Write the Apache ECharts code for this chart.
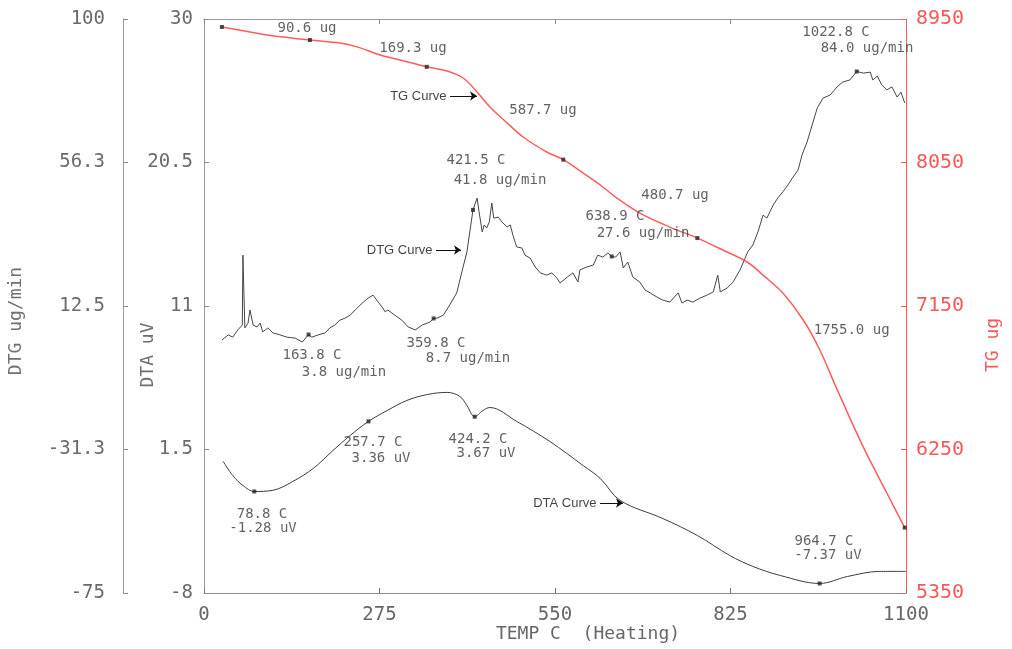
<!DOCTYPE html>
<html><head><meta charset="utf-8">
<script src="https://cdn.jsdelivr.net/npm/echarts@6/dist/echarts.min.js"></script>
<style>html,body{margin:0;padding:0;background:#fff}#c{width:1012px;height:649px}</style>
</head><body><div id="c"></div>
<script>
// ---- tick values and labels ----
const xTicks = [0, 275, 550, 825, 1100];
const xTickLabels = ['0', '275', '550', '825', '1100'];
const dtaTicks = [-8, 1.5, 11, 20.5, 30];
const dtaTickLabels = ['-8', '1.5', '11', '20.5', '30'];
const dtgTicks = [-75, -31.25, 12.5, 56.25, 100];
const dtgTickLabels = ['-75', '-31.3', '12.5', '56.3', '100'];
const tgTicks = [5350, 6250, 7150, 8050, 8950];
const tgTickLabels = ['5350', '6250', '7150', '8050', '8950'];

// ---- TG curve (ug) ----
const tgTemp = [28,72,99,166,213,240,276,307,349,381,406,428,448,475,500,537,563,594,621,647,683,730,773,813,851,876,907,939,965,989,1033,1070,1098];
const tgMass = [8900,8869,8850,8818,8800,8775,8724,8693,8650,8624,8580,8492,8398,8298,8210,8116,8068,7984,7909,7827,7733,7645,7576,7501,7426,7344,7231,7062,6874,6654,6266,5977,5760];
const tgMarkTemp = [28,166,349,563,773,1098];
const tgMarkMass = [8900,8818,8650,8068,7576,5760];

// ---- DTG curve (ug/min) ----
const dtgTemp = [28,38,45,53,60,61,64,69,72,77,83,88,92,100,108,119,130,143,154,163.8,169,179,190,197,205,213,221,229,237,248,257,265,273,279,284,288,299,310,320,331,342,354,359.8,365,375,385,396,406,412,421.5,428,431,436,439,443,447,451,454,461,467,475,480,484,490,498,503,511,519,527,537,545,553,558,569,578,586,589,600,610,617,625,633,638.9,645,652,657,664,672,683,691,699,710,719,730,743,749,757,766,777,788,798,805,809,820,829,840,852,860,868,876,882,892,899,907,915,923,931,937,945,953,961,970,981,992,1001,1012,1022.8,1033,1044,1048,1055,1062,1070,1078,1083,1086,1092,1098];
const dtgRate = [2.1,3.7,3.0,5.2,6.7,28.0,5.8,7.3,11.3,6.7,6.1,7.3,4.6,5.8,4.3,3.7,3.0,2.7,1.5,3.8,3.0,3.7,4.3,5.8,6.7,8.2,8.8,9.7,11.3,13.4,14.9,15.8,13.7,12.2,10.7,11.3,9.7,8.2,6.1,5.2,6.7,7.6,8.7,8.8,9.7,12.8,16.5,24.4,29.0,41.8,45.4,41.2,35.1,37.2,36.3,38.1,43.9,39.3,39.6,38.1,36.6,37.2,34.1,30.5,30.2,28.0,27.1,24.4,22.6,21.9,22.6,21.0,19.5,21.3,22.6,19.8,23.5,24.4,25.0,28.0,27.4,28.7,27.6,27.4,29.0,24.1,25.9,21.3,19.8,17.4,16.5,15.2,14.3,13.7,16.5,13.4,14.3,13.7,14.9,15.8,16.8,21.9,16.8,18.0,19.8,23.5,29.0,31.1,35.1,40.2,39.3,43.3,45.4,47.3,49.4,51.8,54.0,58.5,62.5,67.7,72.9,75.9,76.8,79.3,80.8,81.4,84.0,83.5,83.8,81.4,82.6,79.9,78.4,79.3,77.4,76.2,77.7,74.4];
const dtgMarkTemp = [163.8,359.8,421.5,638.9,1022.8];
const dtgMarkRate = [3.8,8.7,41.8,27.6,84.0];

// ---- DTA curve (uV) ----
const dtaTemp = [30,45,61,78.8,108,139,171,202,229,257.7,287,318,350,381,401,412,424.2,437,448,490,542,594,621,652,719,773,824,860,903,964.7,1008,1059,1100];
const dtaSignal = [0.71,-0.22,-0.88,-1.28,-1.2,-0.62,0.24,1.43,2.43,3.36,4.08,4.75,5.14,5.28,5.01,4.41,3.67,4.08,4.28,3.36,2.03,0.44,-0.42,-1.87,-3.07,-4.19,-5.52,-6.24,-6.84,-7.37,-6.91,-6.57,-6.57];
const dtaMarkTemp = [78.8,257.7,424.2,964.7];
const dtaMarkSignal = [-1.28,3.36,3.67,-7.37];

// ---- annotation texts (anchored in temp / DTA-axis units) ----
const annoText = ['90.6 ug','169.3 ug','587.7 ug','480.7 ug','1755.0 ug','421.5 C','41.8 ug/min','163.8 C','3.8 ug/min','359.8 C','8.7 ug/min','638.9 C','27.6 ug/min','1022.8 C','84.0 ug/min','78.8 C','-1.28 uV','257.7 C','3.36 uV','424.2 C','3.67 uV','964.7 C','-7.37 uV'];
const annoTemp = [161.4,327.5,531.2,738.1,1014.8,426.2,463.8,169.2,219.4,363.5,413.7,644.0,687.9,990.3,1038.9,90.9,92.5,264.8,277.4,429.4,441.9,971.5,977.8];
const annoY = [29.40,28.08,23.98,18.35,9.41,20.67,19.34,7.76,6.63,8.55,7.56,16.96,15.83,29.14,28.08,-2.77,-3.70,2.00,0.94,2.20,1.27,-4.56,-5.48];

const curveText = ['TG Curve','DTG Curve','DTA Curve'];
const curveLabelTemp = [380.8,358.8,615.8];
const arrowStart = [385.5,363.5,620.5];
const arrowEnd = [427.8,402.7,656.6];
const curveY = [24.90,14.71,-2.04];

const MONO = 'DejaVu Sans Mono';
const RED = '#f55a5a';
const pair = (xs, ys) => xs.map((x, i) => [x, ys[i]]);
const fmt = (ticks, labels) => v => {
  const i = ticks.findIndex(t => Math.abs(t - v) < 1e-6);
  return i < 0 ? '' : labels[i];
};

const chart = echarts.init(document.getElementById('c'));
const leftAxisBase = {
  type: 'value', position: 'left',
  axisLine: { show: true, onZero: false, lineStyle: { color: '#9a9a9a', width: 1 } },
  axisTick: { show: true, inside: true, length: 5, lineStyle: { color: '#8a8a8a' } },
  splitLine: { show: false }
};
chart.setOption({
  animation: false,
  backgroundColor: '#ffffff',
  grid: { left: 204, right: 106, top: 19, bottom: 56, containLabel: false },
  xAxis: [
    { type: 'value', min: 0, max: 1100, interval: 275, position: 'bottom',
      axisLine: { onZero: false, lineStyle: { color: '#8a8a8a', width: 1 } },
      axisTick: { inside: true, length: 5, lineStyle: { color: '#777' } },
      axisLabel: { formatter: fmt(xTicks, xTickLabels), fontFamily: MONO, fontSize: 19, color: '#666', margin: 13 },
      splitLine: { show: false } },
    { type: 'value', min: 0, max: 1100, interval: 275, position: 'top',
      axisLine: { show: true, onZero: false, lineStyle: { color: '#9a9a9a', width: 1 } },
      axisTick: { show: true, inside: true, length: 5, lineStyle: { color: '#888' } },
      axisLabel: { show: false }, splitLine: { show: false } }
  ],
  yAxis: [
    Object.assign({}, leftAxisBase, { min: -8, max: 30, interval: 9.5,
      axisLabel: { formatter: fmt(dtaTicks, dtaTickLabels), fontFamily: MONO, fontSize: 19, color: '#6a6a6a', margin: 11 } }),
    Object.assign({}, leftAxisBase, { min: -75, max: 100, interval: 43.75, offset: 81,
      axisLabel: { formatter: fmt(dtgTicks, dtgTickLabels), fontFamily: MONO, fontSize: 19, color: '#6a6a6a', margin: 18 } }),
    { type: 'value', position: 'right', min: 5350, max: 8950, interval: 900,
      axisLine: { show: true, onZero: false, lineStyle: { color: RED, width: 1 } },
      axisTick: { show: true, inside: true, length: 5, lineStyle: { color: RED } },
      axisLabel: { formatter: fmt(tgTicks, tgTickLabels), fontFamily: MONO, fontSize: 20, color: RED, margin: 10 },
      splitLine: { show: false } }
  ],
  graphic: [
    { type: 'text', x: 16, y: 321, rotation: Math.PI / 2,
      style: { text: 'DTG ug/min', fontFamily: MONO, fontSize: 18, fill: '#707070', align: 'center', verticalAlign: 'middle' } },
    { type: 'text', x: 148, y: 355, rotation: Math.PI / 2,
      style: { text: 'DTA uV', fontFamily: MONO, fontSize: 18, fill: '#707070', align: 'center', verticalAlign: 'middle' } },
    { type: 'text', x: 993, y: 345, rotation: Math.PI / 2,
      style: { text: 'TG ug', fontFamily: MONO, fontSize: 18, fill: RED, align: 'center', verticalAlign: 'middle' } },
    { type: 'text', x: 588, y: 634,
      style: { text: 'TEMP C  (Heating)', fontFamily: MONO, fontSize: 18, fill: '#666', align: 'center', verticalAlign: 'middle' } }
  ],
  series: [
    { name: 'DTA', type: 'line', xAxisIndex: 0, yAxisIndex: 0, data: pair(dtaTemp, dtaSignal),
      smooth: 0.35, symbol: 'none', lineStyle: { color: '#3c3c3c', width: 1 }, z: 3 },
    { name: 'DTG', type: 'line', xAxisIndex: 0, yAxisIndex: 1, data: pair(dtgTemp, dtgRate),
      symbol: 'none', lineStyle: { color: '#464646', width: 1 }, z: 3 },
    { name: 'TG', type: 'line', xAxisIndex: 0, yAxisIndex: 2, data: pair(tgTemp, tgMass),
      smooth: 0.35, symbol: 'none', lineStyle: { color: '#ff5c5c', width: 1.5 }, z: 4 },
    { type: 'scatter', yAxisIndex: 0, data: pair(dtaMarkTemp, dtaMarkSignal), symbol: 'rect', symbolSize: 4,
      itemStyle: { color: '#222' }, z: 6, silent: true },
    { type: 'scatter', yAxisIndex: 1, data: pair(dtgMarkTemp, dtgMarkRate), symbol: 'rect', symbolSize: 4,
      itemStyle: { color: '#222' }, z: 6, silent: true },
    { type: 'scatter', yAxisIndex: 2, data: pair(tgMarkTemp, tgMarkMass), symbol: 'rect', symbolSize: 4,
      itemStyle: { color: '#222' }, z: 6, silent: true },
    { type: 'scatter', yAxisIndex: 0, symbolSize: 1, itemStyle: { color: 'rgba(0,0,0,0)' }, silent: true, z: 7,
      data: annoText.map((t, i) => ({ value: [annoTemp[i], annoY[i]], label: { show: true, formatter: t } })),
      label: { show: true, position: 'inside', fontFamily: MONO, fontSize: 14, color: '#3a3a3a' } },
    { type: 'scatter', yAxisIndex: 0, symbolSize: 1, itemStyle: { color: 'rgba(0,0,0,0)' }, silent: true, z: 7,
      data: curveText.map((t, i) => ({ value: [curveLabelTemp[i], curveY[i]], label: { show: true, formatter: t } })),
      label: { show: true, position: 'left', distance: 0, fontFamily: 'Liberation Sans', fontSize: 13, color: '#111' },
      markLine: { silent: true, symbol: ['none', 'arrow'], symbolSize: 7, animation: false,
        label: { show: false }, lineStyle: { color: '#111', width: 1, type: 'solid' },
        data: curveText.map((t, i) => [{ coord: [arrowStart[i], curveY[i]] }, { coord: [arrowEnd[i], curveY[i]] }]) } }
  ]
});
</script>
</body></html>
